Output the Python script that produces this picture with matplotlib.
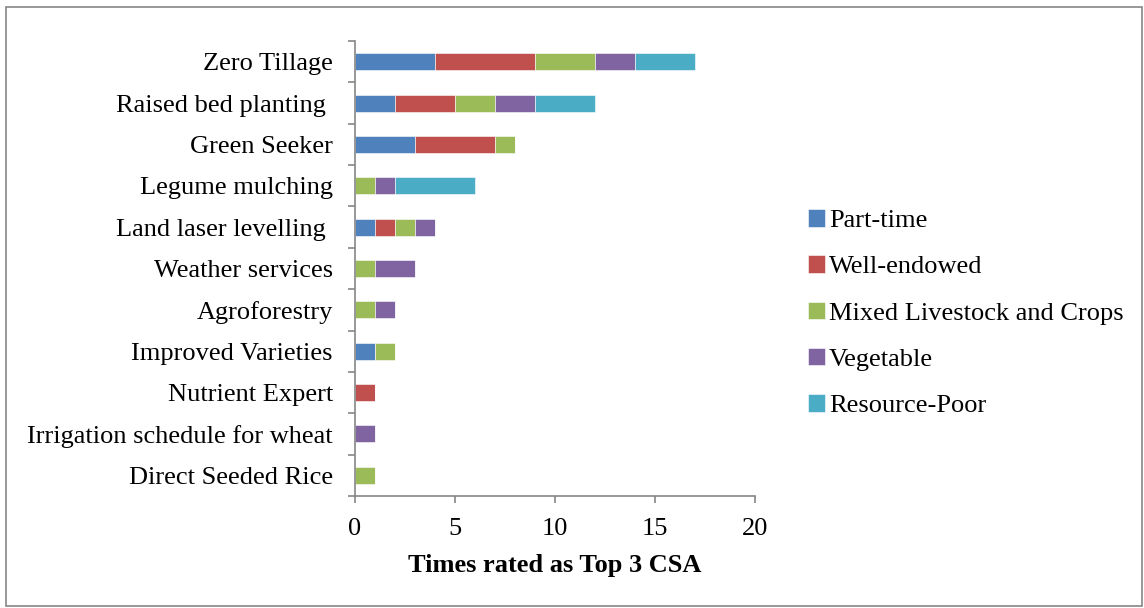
import numpy as np
import matplotlib.pyplot as plt
from matplotlib.patches import Rectangle

plt.rcParams['font.family'] = ['Liberation Serif', 'DejaVu Serif']

practices = ["Zero Tillage", "Raised bed planting ", "Green Seeker", "Legume mulching",
             "Land laser levelling ", "Weather services", "Agroforestry",
             "Improved Varieties", "Nutrient Expert", "Irrigation schedule for wheat",
             "Direct Seeded Rice"]
groups = ["Part-time", "Well-endowed", "Mixed Livestock and Crops", "Vegetable", "Resource-Poor"]
colors = ["#4f81bd", "#c0504d", "#9bbb59", "#8064a2", "#4bacc6"]

part_time    = [4, 2, 3, 0, 1, 0, 0, 1, 0, 0, 0]
well_endowed = [5, 3, 4, 0, 1, 0, 0, 0, 1, 0, 0]
mixed        = [3, 2, 1, 1, 1, 1, 1, 1, 0, 0, 1]
vegetable    = [2, 2, 0, 1, 1, 2, 1, 0, 0, 1, 0]
resource_poor = [3, 3, 0, 4, 0, 0, 0, 0, 0, 0, 0]
series = [part_time, well_endowed, mixed, vegetable, resource_poor]

fig = plt.figure(figsize=(11.44, 6.08), dpi=100)
ax = fig.add_axes([0.3103, 0.1842, 0.3497, 0.7484])

y = np.arange(len(practices))[::-1]
left = np.zeros(len(practices))
for vals, name, c in zip(series, groups, colors):
    vals = np.array(vals, dtype=float)
    ax.barh(y, vals, left=left, height=0.41, color=c, label=name,
            edgecolor='white', linewidth=0.4)
    left += vals

ax.set_xlim(0, 20)
ax.set_ylim(-0.5, len(practices) - 0.5)
ax.set_xticks([0, 5, 10, 15, 20])
ax.set_yticks(y)
ax.set_yticklabels(practices)
ax.set_yticks(np.arange(-0.5, len(practices)), minor=True)
ax.tick_params(axis='y', which='major', length=0, pad=16, labelsize=19)
ax.tick_params(axis='y', which='minor', length=5, color='#868686', width=1.2)
ax.tick_params(axis='x', length=5, color='#868686', width=1.2, labelsize=19, pad=11)

for s in ['top', 'right']:
    ax.spines[s].set_visible(False)
for s in ['left', 'bottom']:
    ax.spines[s].set_color('#868686')
    ax.spines[s].set_linewidth(1.2)

ax.set_xlabel("Times rated as Top 3 CSA", fontsize=19, fontweight='bold', labelpad=10)

fig.legend(loc='center left', bbox_to_anchor=(0.697, 0.485), frameon=False,
           fontsize=19, handlelength=0.65, handleheight=0.65,
           handletextpad=0.15, labelspacing=0.88, borderaxespad=0)

fig.patches.append(Rectangle((0.005, 0.003), 0.993, 0.985, transform=fig.transFigure,
                             fill=False, edgecolor='#868686', linewidth=1.2))

plt.savefig("out.png", dpi=100)
